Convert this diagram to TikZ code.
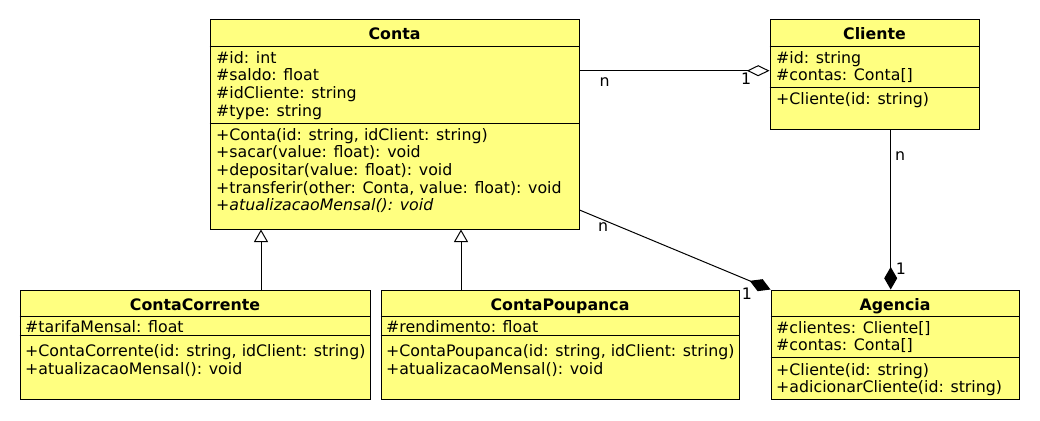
\documentclass[tikz,border=0pt]{standalone}
\usepackage{fontspec}
\setmainfont{DejaVu Sans}
\usetikzlibrary{arrows.meta}
\definecolor{umlfill}{RGB}{255,255,128}
\tikzset{
  cls/.style={draw=black, fill=umlfill, line width=1pt, rectangle, inner sep=0pt},
  sep/.style={line width=1pt},
  txt/.style={anchor=base west, inner sep=0pt, font=\fontsize{15.8}{18}\selectfont},
  ttl/.style={anchor=base, inner sep=0pt, font=\fontsize{15.8}{18}\selectfont\bfseries},
  mult/.style={anchor=base west, inner sep=0pt, font=\fontsize{15.8}{18}\selectfont},
  conn/.style={line width=1pt},
  aggr/.style={conn, -{Diamond[open, length=22.7pt, width=11pt, line width=1pt]}},
  comp/.style={conn, -{Diamond[length=22.5pt, width=13pt]}},
  inh/.style={conn, -{Triangle[open, length=12.5pt, width=14pt, line width=1pt]}},
}
\begin{document}
\begin{tikzpicture}[x=1pt, y=-1pt]
\useasboundingbox[fill=white] (0,0) rectangle (1040,420);

% ---- Conta
\node[cls, minimum width=369pt, minimum height=209pt] (conta) at (394.5,124.5) {};
\draw[sep] (conta.west |- 0,46.7) -- (conta.east |- 0,46.7);
\draw[sep] (conta.west |- 0,123) -- (conta.east |- 0,123);
\node[ttl] (contaT) at (394.5,40) {Conta};
\node[txt] (ca1) at (216,63.3) {\#id: int};
\node[txt] (ca2) at (216,81) {\#saldo: float};
\node[txt] (ca3) at (216,98.7) {\#idCliente: string};
\node[txt] (ca4) at (216,116.3) {\#type: string};
\node[txt] (cm1) at (216,140) {+Conta(id: string, idClient: string)};
\node[txt] (cm2) at (216,157.7) {+sacar(value: float): void};
\node[txt] (cm3) at (216,175.3) {+depositar(value: float): void};
\node[txt] (cm4) at (216,193) {+transferir(other: Conta, value: float): void};
\node[txt] (cm5) at (216,210.7) {\itshape +atualizacaoMensal(): void};

% ---- Cliente
\node[cls, minimum width=209pt, minimum height=109pt] (cliente) at (874.5,74.5) {};
\draw[sep] (cliente.west |- 0,46.7) -- (cliente.east |- 0,46.7);
\draw[sep] (cliente.west |- 0,87.7) -- (cliente.east |- 0,87.7);
\node[ttl] (clienteT) at (874.5,40) {Cliente};
\node[txt] (la1) at (776,63.3) {\#id: string};
\node[txt] (la2) at (776,81) {\#contas: Conta[]};
\node[txt] (lm1) at (776,104) {+Cliente(id: string)};

% ---- Agencia
\node[cls, minimum width=248pt, minimum height=109pt] (agencia) at (895,344.5) {};
\draw[sep] (agencia.west |- 0,316.7) -- (agencia.east |- 0,316.7);
\draw[sep] (agencia.west |- 0,357.7) -- (agencia.east |- 0,357.7);
\node[ttl] (agenciaT) at (895,310) {Agencia};
\node[txt] (ga1) at (776,333.3) {\#clientes: Cliente[]};
\node[txt] (ga2) at (776,350.7) {\#contas: Conta[]};
\node[txt] (gm1) at (776,375) {+Cliente(id: string)};
\node[txt] (gm2) at (776,392.4) {+adicionarCliente(id: string)};

% ---- ContaCorrente
\node[cls, minimum width=350pt, minimum height=109pt] (cc) at (195,344.5) {};
\draw[sep] (cc.west |- 0,316.7) -- (cc.east |- 0,316.7);
\draw[sep] (cc.west |- 0,335.5) -- (cc.east |- 0,335.5);
\node[ttl] (ccT) at (195,310.5) {ContaCorrente};
\node[txt] (cca1) at (25,332) {\#tarifaMensal: float};
\node[txt] (ccm1) at (25,356.3) {+ContaCorrente(id: string, idClient: string)};
\node[txt] (ccm2) at (25,374) {+atualizacaoMensal(): void};

% ---- ContaPoupanca
\node[cls, minimum width=358pt, minimum height=109pt] (cp) at (560,344.5) {};
\draw[sep] (cp.west |- 0,316.7) -- (cp.east |- 0,316.7);
\draw[sep] (cp.west |- 0,335.5) -- (cp.east |- 0,335.5);
\node[ttl] (cpT) at (560,310.5) {ContaPoupanca};
\node[txt] (cpa1) at (386,332) {\#rendimento: float};
\node[txt] (cpm1) at (386,356.3) {+ContaPoupanca(id: string, idClient: string)};
\node[txt] (cpm2) at (386,374) {+atualizacaoMensal(): void};

% ---- connectors
\coordinate (yA) at (0,70.7);
\draw[aggr] (conta.east |- yA) -- (cliente.west |- yA);
\node[mult] (m1) at (599.3,86) {n};
\node[mult] (m2) at (741,84) {1};

\coordinate (xV) at (890.7,0);
\draw[comp] (cliente.south -| xV) -- (agencia.north -| xV);
\node[mult] (m3) at (895,160.7) {n};
\node[mult] (m4) at (895.7,274) {1};

\coordinate (yB) at (0,210);
\draw[comp] (conta.east |- yB) -- (agencia.north west);
\node[mult] (m5) at (598,231.7) {n};
\node[mult] (m6) at (741.7,299.3) {1};

\coordinate (xI1) at (261,0);
\coordinate (xI2) at (461,0);
\draw[inh] (cc.north -| xI1) -- (conta.south -| xI1);
\draw[inh] (cp.north -| xI2) -- (conta.south -| xI2);
\end{tikzpicture}
\end{document}
